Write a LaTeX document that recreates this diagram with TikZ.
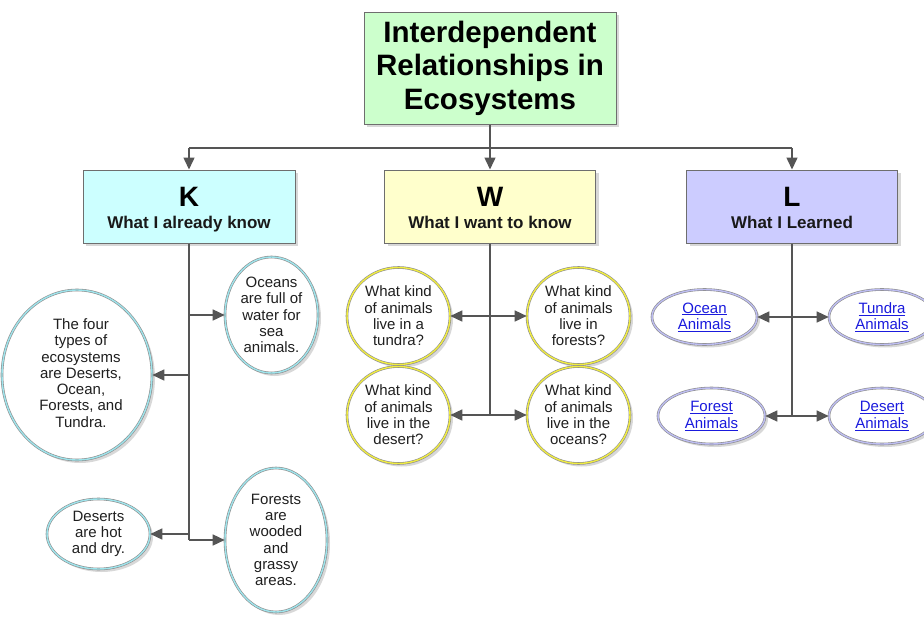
\documentclass[tikz,border=0pt]{standalone}
\usepackage{fontspec}
\setmainfont{Liberation Sans}
\usetikzlibrary{shapes.geometric,arrows.meta,shadows}
\definecolor{lncol}{HTML}{555555}
\definecolor{boxborder}{HTML}{6E6E6E}
\definecolor{titlefill}{HTML}{CCFFCC}
\definecolor{kfill}{HTML}{CCFFFF}
\definecolor{wfill}{HTML}{FFFFCC}
\definecolor{lfill}{HTML}{CCCCFF}
\definecolor{kring}{HTML}{9EE4EC}
\definecolor{wring}{HTML}{F0EC40}
\definecolor{lring}{HTML}{BDBDF2}
\definecolor{linkcol}{HTML}{1A1ADD}
\begin{document}
\begin{tikzpicture}[x=1pt,y=-1pt,
  ln/.style={draw=lncol, line width=1.5pt},
  arr/.style={ln, -{Triangle[length=12pt,width=11pt]}},
  hbox/.style={rectangle, draw=boxborder, line width=1pt, inner sep=0pt,
     drop shadow={shadow xshift=3pt, shadow yshift=-3pt, fill=black!30}},
  blob/.style={ellipse, draw=black!45, double=#1, double distance=1.4pt, line width=0.6pt,
     fill=white, inner sep=0pt,
     drop shadow={shadow xshift=3pt, shadow yshift=-3pt, fill=black!30}},
  etxt/.style={font=\fontsize{15}{16.3}\selectfont, align=center, text=black!88, inner sep=0pt},
  ltxt/.style={font=\fontsize{15}{16.3}\selectfont, align=center, text=linkcol, inner sep=0pt},
  bigl/.style={font=\fontsize{28}{30}\selectfont\bfseries, anchor=base, inner sep=0pt},
  subl/.style={font=\fontsize{17}{19}\selectfont\bfseries, anchor=base, inner sep=0pt, text=black!90}]
\useasboundingbox (0,0) rectangle (924,616);

% title
\node[hbox, fill=titlefill, minimum width=252pt, minimum height=112pt,
  font=\fontsize{29.5}{33.5}\selectfont\bfseries, align=center] (title) at (490,68)
  {Interdependent\\Relationships in\\Ecosystems};

% header boxes
\node[hbox, fill=kfill, minimum width=212pt, minimum height=73pt] (K) at (189,206.5) {};
\node[hbox, fill=wfill, minimum width=211pt, minimum height=73pt] (W) at (490,206.5) {};
\node[hbox, fill=lfill, minimum width=211pt, minimum height=73pt] (L) at (792,206.5) {};
\node[bigl] (Kl) at (189,206) {K};
\node[subl] (Kt) at (189,228) {What I already know};
\node[bigl] (Wl) at (490,206) {W};
\node[subl] (Wt) at (490,228) {What I want to know};
\node[bigl] (Ll) at (792,206) {L};
\node[subl] (Lt) at (792,228) {What I Learned};

% junctions
\coordinate (jW) at (490,148);
\coordinate (jK) at (189,148);
\coordinate (jL) at (792,148);
\draw[ln] (title.south) -- (jW);
\draw[ln] (jK) -- (jL);
\draw[arr] (jK) -- (K.north);
\draw[arr] (jW) -- (W.north);
\draw[arr] (jL) -- (L.north);

% K column
\node[blob=kring, minimum width=93pt, minimum height=116pt] (oce) at (271.5,315) {};
\node[etxt] (oceT) at (oce) {Oceans\\are full of\\water for\\sea\\animals.};
\node[blob=kring, minimum width=150pt, minimum height=170pt] (four) at (77,375) {};
\node[etxt] (fourT) at (81,373) {The four\\types of\\ecosystems\\are Deserts,\\Ocean,\\Forests, and\\Tundra.};
\node[blob=kring, minimum width=103pt, minimum height=70pt] (des) at (98.5,534) {};
\node[etxt] (desT) at (des) {Deserts\\are hot\\and dry.};
\node[blob=kring, minimum width=102pt, minimum height=144pt] (for) at (276,540) {};
\node[etxt] (forT) at (for) {Forests\\are\\wooded\\and\\grassy\\areas.};
\coordinate (kend) at (189,540);
\draw[ln] (K.south) -- (kend);
\draw[arr] (K.south |- oce) -- (oce);
\draw[arr] (K.south |- four) -- (four);
\draw[arr] (K.south |- des) -- (des);
\draw[arr] (kend) -- (for);

% W column
\node[blob=wring, minimum width=103pt, minimum height=97pt] (wt) at (398.5,316) {};
\node[etxt] (wtT) at (wt) {What kind\\of animals\\live in a\\tundra?};
\node[blob=wring, minimum width=103pt, minimum height=97pt] (wf) at (578.5,316) {};
\node[etxt] (wfT) at (wf) {What kind\\of animals\\live in\\forests?};
\node[blob=wring, minimum width=103pt, minimum height=97pt] (wd) at (398.5,415) {};
\node[etxt] (wdT) at (wd) {What kind\\of animals\\live in the\\desert?};
\node[blob=wring, minimum width=103pt, minimum height=97pt] (wo) at (578.5,415) {};
\node[etxt] (woT) at (wo) {What kind\\of animals\\live in the\\oceans?};
\coordinate (wend) at (490,415);
\draw[ln] (W.south) -- (wend);
\draw[arr] (W.south |- wt) -- (wt);
\draw[arr] (W.south |- wf) -- (wf);
\draw[arr] (wend) -- (wd);
\draw[arr] (wend) -- (wo);

% L column
\node[blob=lring, minimum width=105pt, minimum height=55pt] (lo) at (704.5,317) {};
\node[ltxt] (loT) at (lo) {\underline{Ocean}\\\underline{Animals}};
\node[blob=lring, minimum width=106pt, minimum height=55pt] (lt) at (882,317) {};
\node[ltxt] (ltT) at (lt) {\underline{Tundra}\\\underline{Animals}};
\node[blob=lring, minimum width=107pt, minimum height=56pt] (lf) at (711.5,416) {};
\node[ltxt] (lfT) at (lf) {\underline{Forest}\\\underline{Animals}};
\node[blob=lring, minimum width=106pt, minimum height=56pt] (ld) at (882,416) {};
\node[ltxt] (ldT) at (ld) {\underline{Desert}\\\underline{Animals}};
\coordinate (lend) at (792,416);
\draw[ln] (L.south) -- (lend);
\draw[arr] (L.south |- lo) -- (lo);
\draw[arr] (L.south |- lt) -- (lt);
\draw[arr] (lend) -- (lf);
\draw[arr] (lend) -- (ld);
\end{tikzpicture}
\end{document}
